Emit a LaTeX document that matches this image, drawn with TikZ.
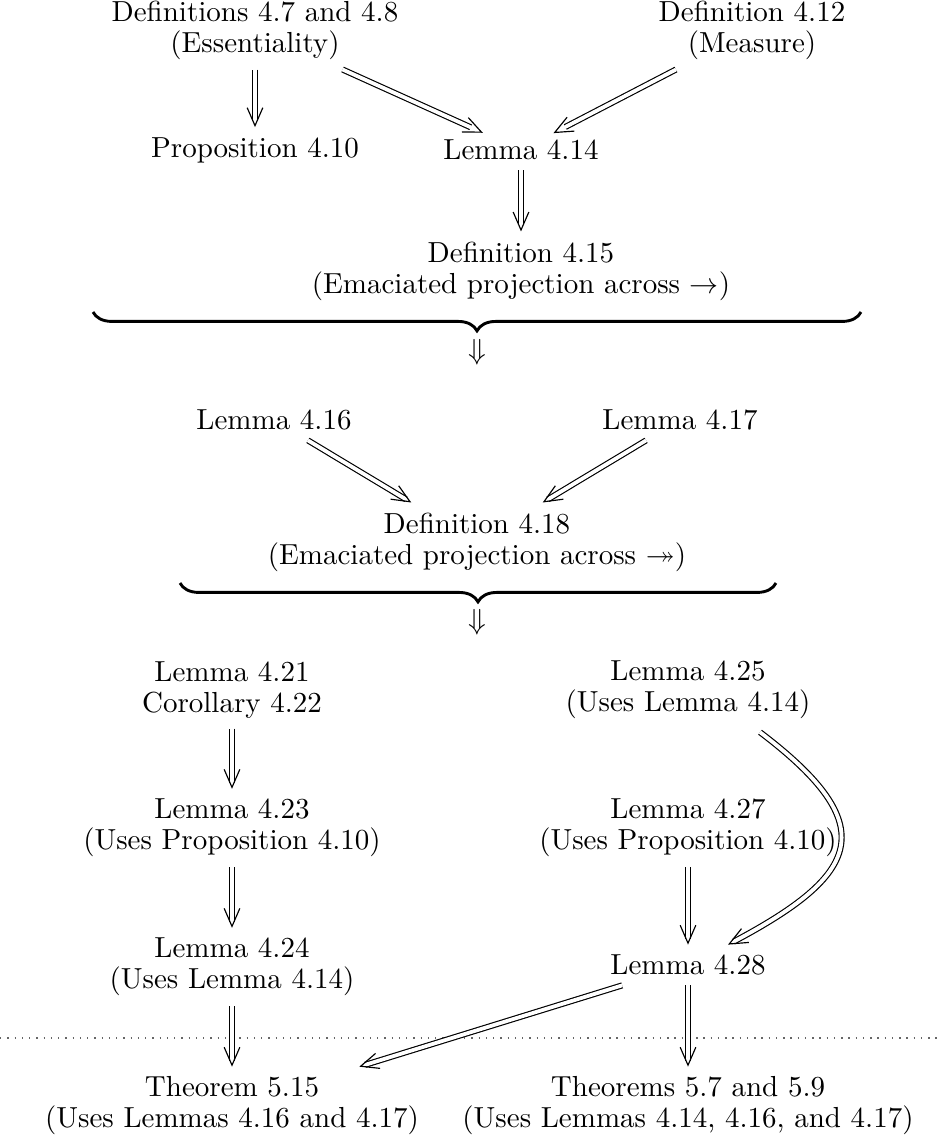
\documentclass[tikz,border=0pt]{standalone}
\usepackage{amssymb}
\usetikzlibrary{arrows.meta,decorations.pathreplacing,calc}
\begin{document}
\begin{tikzpicture}[x=0.3448pt, y=-0.3448pt,
  lbl/.style={align=center, inner sep=1pt, outer sep=2.5pt, font=\normalsize},
  imp/.style={draw=white, line width=0.9pt,
    -{Straight Barb[black, line width=0.4pt, length=6.2pt, width=5.4pt]},
    preaction={draw=black, double=white, double distance=1.3pt, line width=0.4pt, -, shorten >=2.1pt}},
  bracestyle/.style={decorate, decoration={brace, mirror, amplitude=6.5pt}, line width=1pt},
  sep/.style={dotted, line width=0.5pt, black!60}]
\useasboundingbox (0,0) rectangle (937,1141);
% row 0
\node[lbl] (d47)  at (255,30)  {Definitions 4.7 and 4.8\\[-1.3pt](Essentiality)};
\node[lbl] (d412) at (752,30)  {Definition 4.12\\[-1.3pt](Measure)};
% row 1
\node[lbl] (p410) at (255,150) {Proposition 4.10};
\node[lbl] (l414) at (521,150) {Lemma 4.14};
% row 2
\node[lbl] (d415) at (521,271) {Definition 4.15\\[-1.3pt](Emaciated projection across $\to$)};
\draw[bracestyle] (93,312) -- (861,312);
\node[lbl] (dn1) at (477,352) {$\Downarrow$};
% row 3
\node[lbl] (l416) at (274,420) {Lemma 4.16};
\node[lbl] (l417) at (680,420) {Lemma 4.17};
% row 4
\node[lbl] (d418) at (477,542) {Definition 4.18\\[-1.3pt](Emaciated projection across $\twoheadrightarrow$)};
\draw[bracestyle] (180,583) -- (776,583);
\node[lbl] (dn2) at (477,622) {$\Downarrow$};
% row 5
\node[lbl] (l421) at (232,690) {Lemma 4.21\\[-1.3pt]Corollary 4.22};
\node[lbl] (l425) at (688,690) {Lemma 4.25\\[-1.3pt](Uses Lemma 4.14)};
% row 6
\node[lbl] (l423) at (232,828) {Lemma 4.23\\[-1.3pt](Uses Proposition 4.10)};
\node[lbl] (l427) at (688,828) {Lemma 4.27\\[-1.3pt](Uses Proposition 4.10)};
% row 7
\node[lbl] (l424) at (232,967) {Lemma 4.24\\[-1.3pt](Uses Lemma 4.14)};
\node[lbl] (l428) at (688,965) {Lemma 4.28};
% separator
\draw[sep] (0,1038) -- (937,1038);
% row 8
\node[lbl] (t515) at (232,1106) {Theorem 5.15\\[-1.3pt](Uses Lemmas 4.16 and 4.17)};
\node[lbl] (t57)  at (688,1106) {Theorems 5.7 and 5.9\\[-1.3pt](Uses Lemmas 4.14, 4.16, and 4.17)};
% connectors
\draw[imp] (d47) -- (p410);
\draw[imp, shorten >=-2.5pt] (d47) -- (l414);
\draw[imp, shorten >=-2.5pt] (d412) -- (l414);
\draw[imp] (l414) -- (d415);
\draw[imp] (l416) -- (d418);
\draw[imp] (l417) -- (d418);
\draw[imp] (l421) -- (l423);
\draw[imp] (l423) -- (l424);
\draw[imp] (l424) -- (t515);
\draw[imp] (l427) -- (l428);
\draw[imp] ($(l425.south)+(72,3)$) .. controls +(124,94) and +(132,-70) .. ($(l428.north)+(40,0)$);
\draw[imp] (l428) -- (t515);
\draw[imp] (l428) -- (t57);
\end{tikzpicture}
\end{document}
